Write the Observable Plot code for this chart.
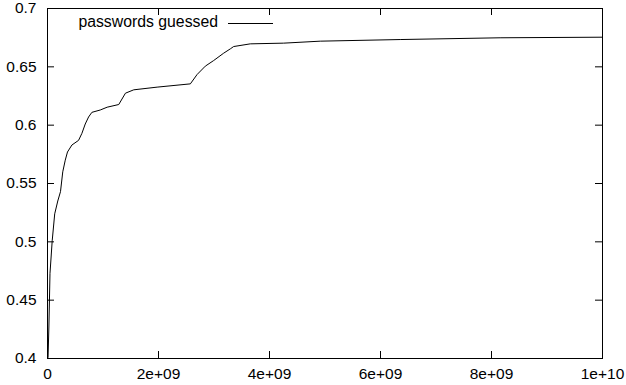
<!DOCTYPE html>
<html>
<head>
<meta charset="utf-8">
<script src="https://cdn.jsdelivr.net/npm/d3@7"></script>
<script src="https://cdn.jsdelivr.net/npm/@observablehq/plot@0.6"></script>
<style>
  html, body { margin: 0; padding: 0; background: #fff; }
  #chart svg { display: block; }
</style>
</head>
<body>
<div id="chart"></div>
<script>
// Data
const guesses = [0, 1.0e7, 2.5e7, 4.5e7, 8.5e7, 1.3e8, 1.85e8, 2.34e8, 2.75e8, 3.2e8, 3.6e8, 4.4e8, 5.6e8, 6.2e8, 6.8e8, 7.4e8, 8.0e8, 9.5e8, 1.075e9, 1.284e9, 1.404e9, 1.554e9, 1.975e9, 2.574e9, 2.695e9, 2.844e9, 2.994e9, 3.174e9, 3.294e9, 3.354e9, 3.654e9, 4.254e9, 4.915e9, 6.355e9, 8.155e9, 1.0e10];
const fraction = [0.400, 0.401, 0.427, 0.473, 0.501, 0.524, 0.535, 0.543, 0.560, 0.570, 0.577, 0.583, 0.587, 0.593, 0.601, 0.607, 0.611, 0.613, 0.6154, 0.6177, 0.6274, 0.6303, 0.6326, 0.6354, 0.6434, 0.6506, 0.6554, 0.6617, 0.6654, 0.6674, 0.6697, 0.6703, 0.6720, 0.6734, 0.6749, 0.6754];
const xTicks = [0, 2e9, 4e9, 6e9, 8e9, 1e10];
const xTickLabels = ["0", "2e+09", "4e+09", "6e+09", "8e+09", "1e+10"];
const yTicks = [0.4, 0.45, 0.5, 0.55, 0.6, 0.65, 0.7];
const yTickLabels = ["0.4", "0.45", "0.5", "0.55", "0.6", "0.65", "0.7"];
const seriesName = "passwords guessed";

const data = guesses.map((g, i) => ({x: g, y: fraction[i]}));

const W = 626, H = 385;
const mL = 47, mR = 24, mT = 8, mB = 27;
const innerH = H - mT - mB;
const innerW = W - mL - mR;
const tickLen = 7;
const FS = 15.5;

const legend = (index, scales, values, dims) => {
  const g = d3.create("svg:g");
  const xEnd = dims.marginLeft + 171;
  const yMid = dims.marginTop + 15;
  g.append("text")
    .attr("x", xEnd).attr("y", yMid)
    .attr("text-anchor", "end")
    .attr("dominant-baseline", "middle")
    .attr("font-size", 15.8)
    .attr("fill", "#000")
    .text(seriesName);
  g.append("line")
    .attr("x1", xEnd + 10).attr("x2", xEnd + 55)
    .attr("y1", yMid + 0.5).attr("y2", yMid + 0.5)
    .attr("stroke", "#000").attr("stroke-width", 1);
  return g.node();
};

const chart = Plot.plot({
  width: W,
  height: H,
  marginLeft: mL,
  marginRight: mR,
  marginTop: mT,
  marginBottom: mB,
  style: {fontFamily: "'Liberation Sans', Arial, sans-serif", fontSize: FS + "px", color: "#000", background: "#fff"},
  x: {domain: [0, 1e10], label: null},
  y: {domain: [0.4, 0.7], label: null},
  marks: [
    Plot.axisX(xTicks, {tickSize: 0, tickPadding: 9, tickFormat: (d, i) => xTickLabels[i], fontSize: FS, fill: "#000", label: null}),
    Plot.axisY(yTicks, {tickSize: 0, tickPadding: 11, tickFormat: (d, i) => yTickLabels[i], fontSize: FS, fill: "#000", label: null}),
    // inward mirrored ticks
    Plot.ruleX(xTicks, {x: d => d, insetTop: innerH - tickLen, stroke: "#000"}),
    Plot.ruleX(xTicks, {x: d => d, insetBottom: innerH - tickLen, stroke: "#000"}),
    Plot.ruleY(yTicks, {y: d => d, insetRight: innerW - tickLen, stroke: "#000"}),
    Plot.ruleY(yTicks, {y: d => d, insetLeft: innerW - tickLen, stroke: "#000"}),
    Plot.line(data, {x: "x", y: "y", stroke: "#000", strokeWidth: 1}),
    Plot.frame({stroke: "#000", strokeWidth: 1}),
    legend
  ]
});

document.getElementById("chart").appendChild(chart);
</script>
</body>
</html>
